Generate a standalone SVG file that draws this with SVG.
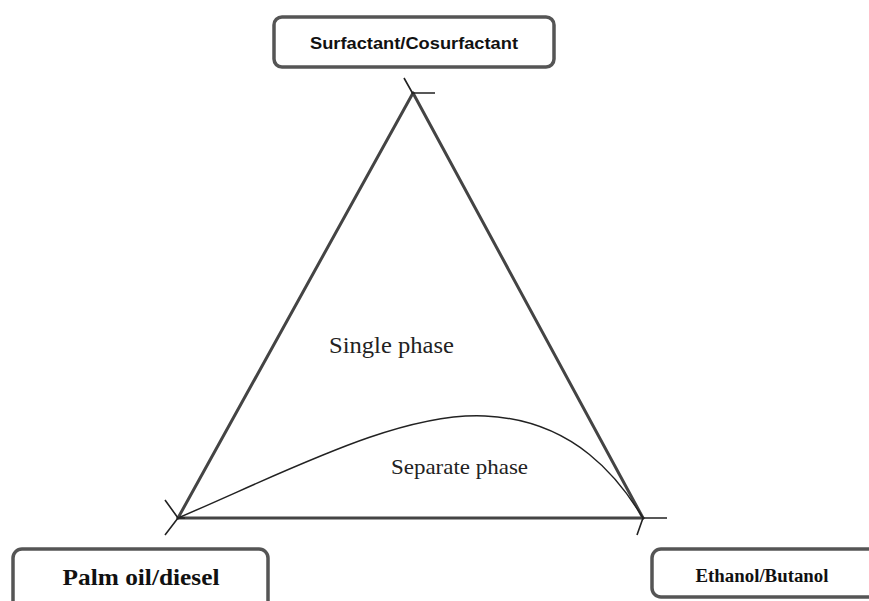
<svg xmlns="http://www.w3.org/2000/svg" width="869" height="601" viewBox="0 0 869 601">
<style>
.box{fill:#fff;stroke:#555;stroke-width:3.5}
.edge{stroke:#444;stroke-width:3;fill:none;stroke-linecap:round}
.tick{stroke:#222;stroke-width:1.6;fill:none}
.lbl{font-family:"Liberation Serif",serif;font-weight:bold;fill:#111}
.reg{font-family:"Liberation Serif",serif;fill:#222}
</style>
<rect width="869" height="601" fill="#fff"/>
<g id="connectors">
<line class="edge" x1="413" y1="93" x2="178" y2="518"/>
<line class="edge" x1="413" y1="93" x2="643" y2="518"/>
<line class="edge" x1="178" y1="518" x2="643" y2="518"/>
<path class="tick" d="M404,78 L413,94 M413,93 L435,93"/>
<path class="tick" d="M165,500 L178,518 L165,535 M178,518 L185,518"/>
<path class="tick" d="M643,518 L667,518 M643,518 L637,535"/>
<path d="M178,518 C290,470 400,412 485,416 C575,420 620,480 643,518" fill="none" stroke="#222" stroke-width="1.5"/>
</g>
<g id="node-surfactant">
<rect class="box" x="274" y="17" width="280" height="50" rx="8"/>
<text x="414" y="49" text-anchor="middle" font-family="Liberation Sans, sans-serif" font-weight="bold" font-size="17" textLength="208" lengthAdjust="spacingAndGlyphs" fill="#111">Surfactant/Cosurfactant</text>
</g>
<g id="node-palm">
<rect class="box" x="13" y="549" width="255" height="70" rx="9"/>
<text class="lbl" x="141" y="585" text-anchor="middle" font-size="23" textLength="157" lengthAdjust="spacingAndGlyphs">Palm oil/diesel</text>
</g>
<g id="node-ethanol">
<rect class="box" x="652" y="549" width="240" height="48" rx="9"/>
<text class="lbl" x="762" y="582" text-anchor="middle" font-size="18" textLength="133" lengthAdjust="spacingAndGlyphs">Ethanol/Butanol</text>
</g>
<g id="regions">
<text class="reg" x="329" y="353" font-size="24" textLength="125" lengthAdjust="spacingAndGlyphs">Single phase</text>
<text class="reg" x="391" y="474" font-size="22" textLength="137" lengthAdjust="spacingAndGlyphs">Separate phase</text>
</g>
</svg>
